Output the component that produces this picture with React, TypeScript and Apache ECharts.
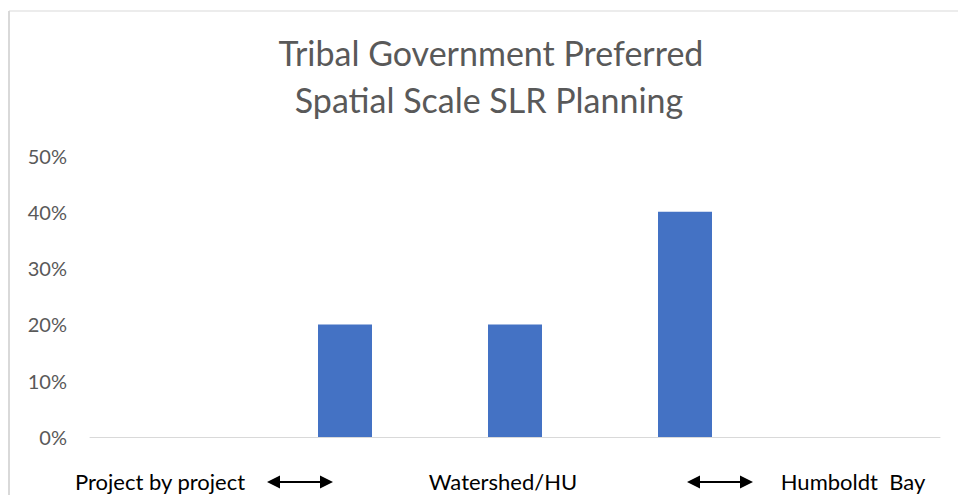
import React, { useEffect, useRef } from "react";
import * as echarts from "echarts";

const categories = ["Project by project", "", "Watershed/HU", "", "Humboldt Bay"];
const shares = [0, 0.2, 0.2, 0.4, 0];
const yTicks = [0, 0.1, 0.2, 0.3, 0.4, 0.5];
const titleLines = ["Tribal Government Preferred", "Spatial Scale SLR Planning"];
const scaleLabels = ["Project by project", "Watershed/HU", "Humboldt  Bay"];

const FONT = "Lato, 'Open Sans', sans-serif";
const GRAY = "#595959";

function arrow(x1: number, x2: number, y: number) {
  const hw = 13;
  const hh = 6.5;
  return [
    { type: "line", shape: { x1: x1 + hw - 1, y1: y, x2: x2 - hw + 1, y2: y }, style: { stroke: "#000", lineWidth: 2 } },
    { type: "polygon", shape: { points: [[x1, y], [x1 + hw, y - hh], [x1 + hw, y + hh]] }, style: { fill: "#000" } },
    { type: "polygon", shape: { points: [[x2, y], [x2 - hw, y - hh], [x2 - hw, y + hh]] }, style: { fill: "#000" } },
  ];
}

export default function App() {
  const ref = useRef<HTMLDivElement>(null);
  useEffect(() => {
    if (!ref.current) return;
    const chart = echarts.init(ref.current, null, { renderer: "svg" });
    chart.setOption({
      animation: false,
      backgroundColor: "#fff",
      grid: { left: 90, right: 18, top: 155.5, bottom: 58 },
      xAxis: {
        type: "category",
        data: categories,
        axisLine: { show: true, lineStyle: { color: "#d9d9d9", width: 1 } },
        axisTick: { show: false },
        axisLabel: { show: false },
      },
      yAxis: {
        type: "value",
        min: yTicks[0],
        max: yTicks[yTicks.length - 1],
        interval: 0.1,
        splitLine: { show: false },
        axisLine: { show: false },
        axisTick: { show: false },
        axisLabel: {
          margin: 23,
          fontFamily: FONT,
          fontSize: 20,
          color: GRAY,
          formatter: (v: number) => `${Math.round(v * 100)}%`,
        },
      },
      series: [
        {
          type: "bar",
          data: shares,
          barWidth: 54,
          itemStyle: { color: "#4472C4" },
        },
      ],
      graphic: [
        { type: "line", shape: { x1: 9, y1: 11, x2: 958, y2: 11 }, style: { stroke: "#d9d9d9", lineWidth: 1 } },
        { type: "line", shape: { x1: 9, y1: 11, x2: 9, y2: 495 }, style: { stroke: "#d9d9d9", lineWidth: 2 } },
        { type: "text", x: 491, y: 52, style: { text: titleLines[0], font: `34px ${FONT}`, fill: GRAY, textAlign: "center", textVerticalAlign: "middle" } },
        { type: "text", x: 489, y: 99, style: { text: titleLines[1], font: `34px ${FONT}`, fill: GRAY, textAlign: "center", textVerticalAlign: "middle" } },
        { type: "text", x: 160, y: 481, style: { text: scaleLabels[0], font: `22px ${FONT}`, fill: "#000", textAlign: "center", textVerticalAlign: "middle" } },
        { type: "text", x: 503, y: 481, style: { text: scaleLabels[1], font: `22px ${FONT}`, fill: "#000", textAlign: "center", textVerticalAlign: "middle" } },
        { type: "text", x: 853, y: 481, style: { text: scaleLabels[2], font: `22px ${FONT}`, fill: "#000", textAlign: "center", textVerticalAlign: "middle" } },
        ...arrow(267, 333, 482),
        ...arrow(687, 753, 482),
      ],
    });
    return () => chart.dispose();
  }, []);
  return <div ref={ref} style={{ position: "fixed", left: 0, top: 0, width: 958, height: 495 }} />;
}
